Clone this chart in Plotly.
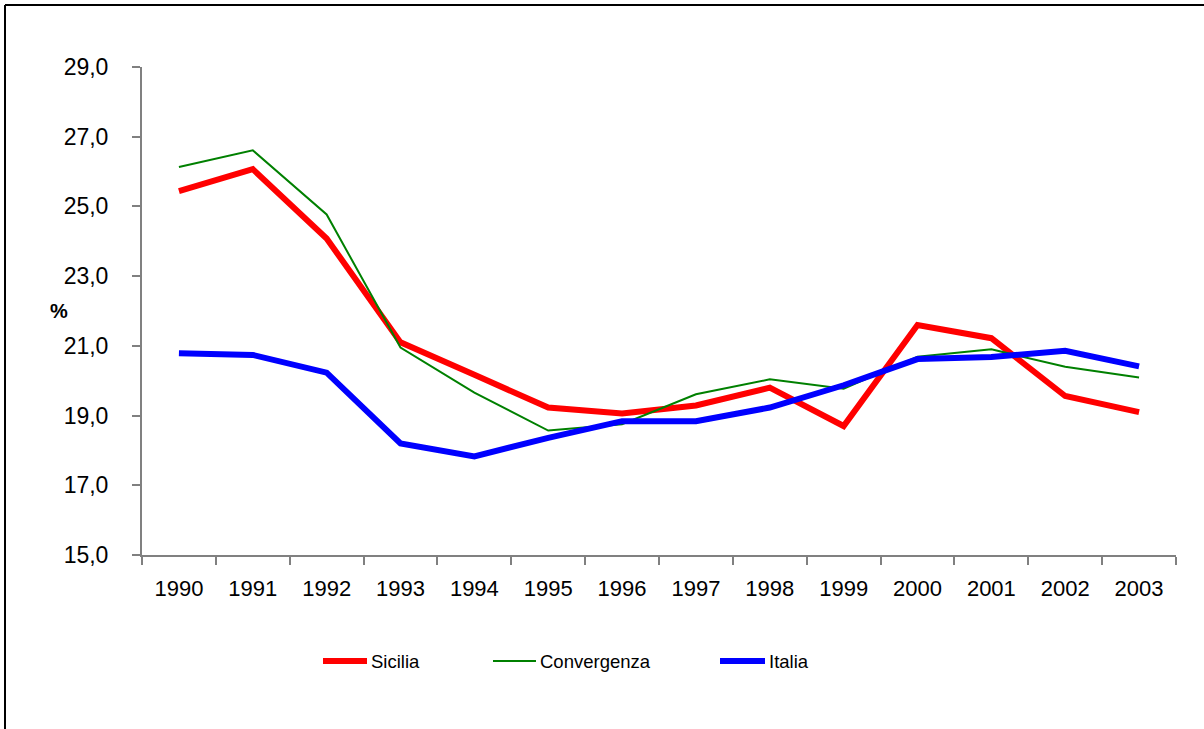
import plotly.graph_objects as go

years = [str(y) for y in range(1990, 2004)]
sicilia = [25.44, 26.07, 24.08, 21.1, 20.17, 19.23, 19.06, 19.29, 19.8, 18.7, 21.6, 21.22, 19.56, 19.1]
convergenza = [26.13, 26.61, 24.77, 20.95, 19.66, 18.57, 18.75, 19.61, 20.04, 19.77, 20.69, 20.9, 20.4, 20.09]
italia = [20.79, 20.74, 20.23, 18.2, 17.83, 18.36, 18.84, 18.84, 19.23, 19.87, 20.62, 20.68, 20.86, 20.41]

series = [
    ("Sicilia", sicilia, "#FF0000", 6),
    ("Convergenza", convergenza, "#008000", 2),
    ("Italia", italia, "#0000FF", 6),
]

W, H = 1204, 729
L, R, T, B = 142, 28, 67, 174
FONT = "Liberation Sans, Arial, sans-serif"


def px(x):
    return (x - L) / (W - L - R)


def py(y):
    return (H - B - y) / (H - B - T)


fig = go.Figure()
for name, vals, col, w in series:
    fig.add_trace(go.Scatter(x=years, y=vals, name=name, mode="lines",
                             line=dict(color=col, width=w), showlegend=False))

# legend drawn by hand, like the original
legend_x = [(323, 367), (493, 536), (720, 765)]
shapes = []
annotations = []
for (name, vals, col, w), (x0, x1) in zip(series, legend_x):
    shapes.append(dict(type="line", xref="paper", yref="paper",
                       x0=px(x0), x1=px(x1), y0=py(661), y1=py(661),
                       line=dict(color=col, width=w)))
    annotations.append(dict(text=name, xref="paper", yref="paper",
                            x=px(x1 + 2), y=py(661), xanchor="left", yanchor="middle",
                            showarrow=False, font=dict(size=18.5, color="black", family=FONT)))

annotations.append(dict(text="<b>%</b>", xref="paper", yref="paper", x=px(48), y=py(311),
                        showarrow=False, font=dict(size=20, color="black", family=FONT)))

# outer frame
shapes.append(dict(type="line", xref="paper", yref="paper", x0=px(5), x1=px(1210),
                   y0=py(5), y1=py(5), line=dict(color="black", width=2)))
shapes.append(dict(type="line", xref="paper", yref="paper", x0=px(5), x1=px(5),
                   y0=py(5), y1=py(735), line=dict(color="black", width=2)))

fig.update_layout(
    width=W, height=H,
    margin=dict(l=L, r=R, t=T, b=B),
    paper_bgcolor="white", plot_bgcolor="white",
    separators=",.",
    font=dict(family=FONT, size=22, color="black"),
    shapes=shapes,
    annotations=annotations,
    showlegend=False,
)
fig.update_xaxes(type="category", range=[-0.5, 13.5], showline=True, linecolor="#808080",
                 linewidth=2, ticks="outside", tickson="boundaries", ticklen=8,
                 tickcolor="#808080", tickwidth=2, showgrid=False, zeroline=False,
                 ticklabelstandoff=13, tickfont=dict(size=22))
fig.update_yaxes(range=[15, 29], tick0=15, dtick=2, tickformat=".1f", showline=True,
                 linecolor="#808080", linewidth=2, ticks="outside", ticklen=8,
                 tickcolor="#808080", tickwidth=2, showgrid=False, zeroline=False,
                 ticklabelstandoff=19, tickfont=dict(size=23))

fig.write_html("out.html", config={"displayModeBar": False},
               post_script="document.body.style.margin='0px';")
